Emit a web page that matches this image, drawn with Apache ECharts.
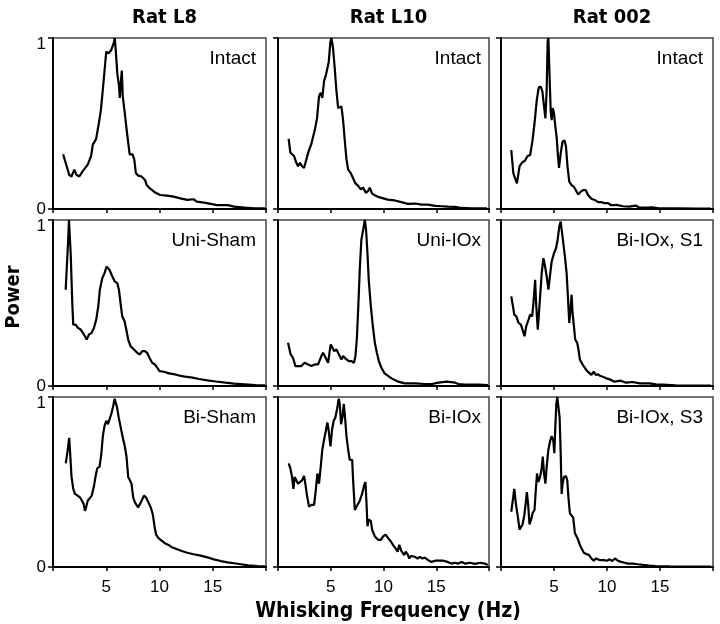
<!DOCTYPE html>
<html>
<head>
<meta charset="utf-8">
<script src="https://cdn.jsdelivr.net/npm/echarts@6/dist/echarts.min.js"></script>
<style>
html,body{margin:0;padding:0;background:#fff;}
#chart{width:720px;height:624px;}
</style>
</head>
<body>
<div id="chart"></div>
<script>
// ---- Data: [frequency (Hz), normalised power] ----
const colTitles = ['Rat L8', 'Rat L10', 'Rat 002'];
const panelLabels = [
  ['Intact', 'Intact', 'Intact'],
  ['Uni-Sham', 'Uni-IOx', 'Bi-IOx, S1'],
  ['Bi-Sham', 'Bi-IOx', 'Bi-IOx, S3']
];
const xTicks = [5, 10, 15];

const l8Intact = [[0.95,0.32],[1.52,0.2],[1.74,0.19],[2.0,0.23],[2.2,0.2],[2.47,0.19],[2.78,0.22],[3.26,0.26],[3.58,0.31],[3.73,0.375],[4.05,0.41],[4.3,0.5],[4.5,0.58],[4.68,0.7],[4.84,0.81],[5.0,0.92],[5.22,0.91],[5.47,0.93],[5.7,0.97],[5.8,1.0],[5.89,0.93],[6.04,0.79],[6.2,0.72],[6.27,0.65],[6.36,0.73],[6.46,0.81],[6.55,0.66],[6.74,0.56],[6.96,0.44],[7.2,0.32],[7.47,0.32],[7.63,0.29],[7.78,0.21],[8.0,0.195],[8.32,0.19],[8.64,0.17],[8.8,0.14],[9.1,0.12],[9.6,0.096],[10.06,0.082],[10.7,0.078],[11.33,0.072],[11.96,0.062],[12.6,0.053],[13.2,0.057],[13.5,0.043],[14.2,0.037],[14.8,0.03],[15.4,0.023],[16.4,0.023],[17.0,0.014],[18.0,0.008],[18.9,0.004],[19.9,0.004]];

const l10Intact = [[1.01,0.41],[1.17,0.33],[1.33,0.34],[1.52,0.31],[1.74,0.27],[1.9,0.25],[2.09,0.27],[2.28,0.25],[2.47,0.24],[2.69,0.29],[2.91,0.34],[3.16,0.38],[3.48,0.46],[3.7,0.53],[3.89,0.66],[4.05,0.68],[4.2,0.65],[4.37,0.75],[4.53,0.78],[4.68,0.79],[4.81,0.86],[4.97,0.98],[5.06,1.0],[5.22,0.94],[5.38,0.82],[5.54,0.69],[5.7,0.59],[5.85,0.58],[6.01,0.6],[6.17,0.52],[6.33,0.4],[6.49,0.29],[6.65,0.23],[6.9,0.21],[7.12,0.18],[7.34,0.15],[7.6,0.135],[7.85,0.115],[8.07,0.125],[8.32,0.095],[8.54,0.105],[8.7,0.125],[8.92,0.09],[9.34,0.075],[9.8,0.065],[10.4,0.055],[11.07,0.05],[11.7,0.04],[12.3,0.03],[13.0,0.032],[13.6,0.026],[14.2,0.026],[14.9,0.018],[15.5,0.016],[16.1,0.014],[16.8,0.012],[17.4,0.006],[18.35,0.004],[19.8,0.004]];

const r002Intact = [[0.97,0.345],[1.16,0.21],[1.5,0.15],[1.75,0.25],[1.97,0.27],[2.28,0.285],[2.5,0.31],[2.75,0.315],[2.97,0.4],[3.16,0.5],[3.38,0.64],[3.56,0.71],[3.75,0.716],[3.9,0.69],[4.06,0.6],[4.19,0.53],[4.31,0.7],[4.4,0.98],[4.47,1.0],[4.56,0.82],[4.69,0.57],[4.78,0.52],[4.88,0.59],[5.0,0.56],[5.13,0.48],[5.25,0.42],[5.38,0.305],[5.47,0.24],[5.63,0.325],[5.81,0.395],[6.0,0.4],[6.13,0.365],[6.28,0.245],[6.44,0.16],[6.66,0.14],[6.88,0.13],[7.06,0.11],[7.28,0.085],[7.5,0.1],[7.75,0.11],[8.0,0.11],[8.22,0.08],[8.53,0.06],[8.84,0.053],[9.16,0.04],[9.47,0.04],[9.78,0.034],[10.1,0.034],[10.4,0.022],[10.9,0.024],[11.5,0.016],[12.1,0.014],[12.7,0.02],[13.0,0.01],[13.7,0.008],[14.3,0.01],[14.9,0.004],[16.5,0.004],[18.4,0.002],[19.8,0.002]];

const l8UniSham = [[1.19,0.58],[1.41,0.86],[1.5,1.0],[1.66,0.8],[1.81,0.5],[1.9,0.37],[2.13,0.37],[2.34,0.35],[2.6,0.34],[2.81,0.32],[3.0,0.3],[3.16,0.28],[3.38,0.31],[3.63,0.32],[3.84,0.35],[4.06,0.4],[4.25,0.48],[4.4,0.58],[4.63,0.65],[4.84,0.68],[5.03,0.72],[5.16,0.72],[5.3,0.7],[5.5,0.67],[5.66,0.67],[5.8,0.63],[6.03,0.62],[6.19,0.58],[6.34,0.5],[6.5,0.42],[6.72,0.39],[6.88,0.34],[7.06,0.28],[7.28,0.24],[7.6,0.22],[7.9,0.2],[8.16,0.19],[8.38,0.21],[8.63,0.21],[8.84,0.2],[9.06,0.17],[9.31,0.14],[9.56,0.13],[9.78,0.11],[10.0,0.09],[10.4,0.086],[10.9,0.076],[11.3,0.072],[11.8,0.064],[12.4,0.056],[13.1,0.05],[13.7,0.042],[14.5,0.034],[15.3,0.027],[16.2,0.02],[17.0,0.014],[18.0,0.01],[19.0,0.006],[19.9,0.004]];

const l10UniIOx = [[0.95,0.26],[1.2,0.19],[1.42,0.17],[1.65,0.12],[1.9,0.12],[2.2,0.12],[2.53,0.14],[2.85,0.13],[3.16,0.12],[3.48,0.13],[3.8,0.13],[3.96,0.12],[4.11,0.18],[4.27,0.2],[4.43,0.18],[4.59,0.19],[4.75,0.14],[4.9,0.21],[5.0,0.25],[5.16,0.23],[5.32,0.21],[5.54,0.22],[5.7,0.21],[5.85,0.18],[6.01,0.16],[6.17,0.18],[6.33,0.18],[6.49,0.16],[6.71,0.15],[6.96,0.15],[7.2,0.14],[7.34,0.18],[7.47,0.28],[7.6,0.46],[7.75,0.7],[7.9,0.88],[8.07,0.94],[8.23,1.0],[8.35,0.94],[8.48,0.8],[8.6,0.64],[8.8,0.48],[8.99,0.36],[9.18,0.26],[9.37,0.2],[9.56,0.15],[9.8,0.11],[10.1,0.076],[10.4,0.062],[10.76,0.046],[11.4,0.026],[12.0,0.016],[13.0,0.016],[13.9,0.012],[14.6,0.012],[15.2,0.02],[16.0,0.026],[16.8,0.02],[17.1,0.012],[17.7,0.008],[19.0,0.008],[19.9,0.006]];

const r002BiS1 = [[0.97,0.54],[1.13,0.48],[1.25,0.43],[1.44,0.42],[1.66,0.38],[1.88,0.37],[2.06,0.36],[2.22,0.3],[2.38,0.36],[2.6,0.4],[2.75,0.43],[2.94,0.42],[3.06,0.5],[3.22,0.64],[3.31,0.5],[3.47,0.34],[3.56,0.42],[3.69,0.54],[3.84,0.68],[4.0,0.77],[4.16,0.72],[4.31,0.66],[4.47,0.58],[4.63,0.67],[4.78,0.75],[5.0,0.8],[5.19,0.83],[5.34,0.88],[5.5,0.96],[5.63,0.99],[5.72,0.98],[5.88,0.86],[6.03,0.78],[6.19,0.68],[6.31,0.54],[6.44,0.38],[6.56,0.46],[6.66,0.55],[6.75,0.44],[6.88,0.36],[7.0,0.28],[7.19,0.26],[7.31,0.22],[7.44,0.16],[7.69,0.13],[7.9,0.11],[8.13,0.09],[8.31,0.08],[8.53,0.067],[8.75,0.087],[8.94,0.067],[9.16,0.07],[9.38,0.06],[9.63,0.056],[9.94,0.046],[10.25,0.04],[10.7,0.026],[11.3,0.032],[11.8,0.02],[12.4,0.024],[13.1,0.016],[14.0,0.016],[14.6,0.01],[15.25,0.008],[16.5,0.004],[19.8,0.002]];

const l8BiSham = [[1.2,0.61],[1.36,0.68],[1.52,0.76],[1.61,0.67],[1.74,0.53],[1.9,0.46],[2.06,0.43],[2.31,0.42],[2.53,0.41],[2.72,0.39],[2.88,0.37],[3.0,0.33],[3.1,0.35],[3.26,0.39],[3.42,0.4],[3.64,0.42],[3.83,0.47],[3.99,0.53],[4.15,0.58],[4.37,0.59],[4.53,0.66],[4.68,0.77],[4.84,0.83],[5.0,0.86],[5.16,0.84],[5.32,0.85],[5.47,0.9],[5.63,0.94],[5.79,0.99],[5.89,1.0],[6.01,0.94],[6.17,0.88],[6.33,0.83],[6.52,0.77],[6.74,0.71],[6.9,0.65],[7.06,0.53],[7.22,0.51],[7.37,0.49],[7.53,0.41],[7.69,0.38],[7.85,0.37],[8.0,0.35],[8.16,0.36],[8.32,0.39],[8.54,0.42],[8.73,0.41],[8.96,0.38],[9.18,0.35],[9.37,0.31],[9.53,0.24],[9.68,0.19],[9.9,0.17],[10.2,0.155],[10.5,0.14],[10.85,0.13],[11.17,0.116],[11.65,0.104],[12.1,0.094],[12.6,0.084],[13.2,0.075],[13.86,0.067],[14.5,0.057],[15.1,0.045],[15.76,0.035],[16.4,0.027],[17.0,0.022],[17.66,0.016],[18.3,0.01],[19.2,0.006],[19.9,0.004]];

const l10BiIOx = [[1.01,0.61],[1.17,0.58],[1.33,0.53],[1.46,0.46],[1.58,0.53],[1.74,0.54],[1.9,0.49],[2.06,0.49],[2.28,0.51],[2.47,0.535],[2.59,0.49],[2.75,0.42],[2.94,0.355],[3.16,0.365],[3.42,0.365],[3.58,0.45],[3.73,0.55],[3.89,0.49],[4.05,0.59],[4.2,0.69],[4.37,0.75],[4.53,0.8],[4.68,0.85],[4.81,0.8],[4.97,0.71],[5.13,0.81],[5.28,0.86],[5.44,0.88],[5.6,0.93],[5.76,0.99],[5.85,0.96],[5.98,0.84],[6.11,0.88],[6.23,0.96],[6.33,0.9],[6.49,0.77],[6.65,0.69],[6.8,0.63],[7.03,0.63],[7.12,0.51],[7.28,0.335],[7.53,0.365],[7.75,0.39],[7.97,0.43],[8.16,0.48],[8.29,0.5],[8.39,0.375],[8.48,0.24],[8.6,0.28],[8.8,0.27],[8.92,0.22],[9.18,0.18],[9.49,0.16],[9.75,0.16],[9.97,0.18],[10.2,0.19],[10.44,0.17],[10.7,0.15],[10.9,0.13],[11.14,0.11],[11.33,0.09],[11.5,0.13],[11.65,0.1],[11.8,0.084],[11.96,0.07],[12.1,0.09],[12.28,0.076],[12.44,0.05],[12.6,0.065],[12.75,0.076],[12.97,0.06],[13.23,0.05],[13.45,0.06],[13.67,0.05],[13.9,0.055],[14.24,0.04],[14.56,0.03],[14.87,0.037],[15.19,0.037],[15.66,0.037],[16.08,0.03],[16.46,0.02],[16.77,0.025],[17.09,0.02],[17.4,0.03],[17.72,0.02],[18.2,0.025],[18.67,0.018],[19.15,0.025],[19.6,0.02],[19.9,0.012]];

const r002BiS3 = [[0.97,0.325],[1.13,0.4],[1.25,0.46],[1.41,0.37],[1.6,0.29],[1.75,0.22],[1.9,0.22],[2.03,0.25],[2.19,0.3],[2.34,0.38],[2.44,0.44],[2.56,0.37],[2.69,0.25],[2.84,0.28],[3.0,0.32],[3.16,0.335],[3.28,0.45],[3.4,0.55],[3.53,0.5],[3.69,0.53],[3.84,0.58],[3.94,0.65],[4.06,0.55],[4.19,0.49],[4.31,0.59],[4.47,0.69],[4.63,0.74],[4.78,0.77],[4.94,0.74],[5.03,0.67],[5.13,0.83],[5.22,0.96],[5.31,1.0],[5.44,0.99],[5.53,0.88],[5.63,0.67],[5.72,0.43],[5.81,0.49],[5.94,0.53],[6.13,0.535],[6.25,0.51],[6.38,0.395],[6.5,0.315],[6.66,0.325],[6.81,0.29],[6.97,0.2],[7.13,0.18],[7.28,0.16],[7.44,0.13],[7.59,0.11],[7.81,0.084],[8.06,0.076],[8.31,0.07],[8.53,0.05],[8.75,0.037],[8.94,0.05],[9.16,0.045],[9.38,0.04],[9.56,0.05],[9.78,0.04],[10.0,0.037],[10.25,0.045],[10.5,0.035],[10.75,0.05],[11.03,0.037],[11.34,0.03],[11.66,0.025],[11.97,0.02],[12.44,0.02],[12.9,0.016],[13.4,0.012],[14.0,0.008],[14.6,0.006],[15.9,0.004],[17.75,0.002],[19.8,0.002]];

const panelData = [
  [l8Intact, l10Intact, r002Intact],
  [l8UniSham, l10UniIOx, r002BiS1],
  [l8BiSham, l10BiIOx, r002BiS3]
];

// ---- Layout ----
const colLeft = [53, 278, 501];
const colW = [213, 211, 212];
const rowTop = [38, 220, 397];
const rowH = [171, 166, 170];
const labelRight = [459, 234, 12];
const NARROW = "'Liberation Sans Narrow','Arial Narrow','DejaVu Sans Condensed','Liberation Sans',sans-serif";
const SANS = "'Liberation Sans',Arial,sans-serif";

const grid = [], xAxis = [], yAxis = [], series = [], title = [];
for (let r = 0; r < 3; r++) {
  for (let c = 0; c < 3; c++) {
    const i = r * 3 + c;
    grid.push({left: colLeft[c], top: rowTop[r], width: colW[c], height: rowH[r],
      show: true, borderColor: '#444', borderWidth: 1.5, backgroundColor: 'transparent'});
    xAxis.push({gridIndex: i, type: 'value', min: 0, max: 20, interval: 5,
      axisLine: {show: true, onZero: false, lineStyle: {color: '#000', width: 2}},
      axisTick: {show: true, length: 4, lineStyle: {color: '#000', width: 1.5}},
      axisLabel: {show: r === 2, margin: 12, color: '#000', fontSize: 17, fontFamily: SANS,
        formatter: v => xTicks.indexOf(v) >= 0 ? String(v) : ''},
      splitLine: {show: false}});
    yAxis.push({gridIndex: i, type: 'value', min: 0, max: 1, interval: 1,
      axisLine: {show: true, onZero: false, lineStyle: {color: '#000', width: 2}},
      axisTick: {show: true, length: 5, lineStyle: {color: '#000', width: 1.5}},
      axisLabel: {show: c === 0, margin: 7, color: '#000', fontSize: 17, fontFamily: SANS,
        formatter: v => v === 1 ? '{one|1}' : String(v),
        rich: {one: {fontSize: 17, fontFamily: SANS, color: '#000', padding: [12, 0, 0, 0]}}},
      splitLine: {show: false}});
    series.push({type: 'line', xAxisIndex: i, yAxisIndex: i, data: panelData[r][c],
      showSymbol: false, symbol: 'none', animation: false,
      lineStyle: {color: '#000', width: 2.2}});
    title.push({text: panelLabels[r][c], right: labelRight[c], top: rowTop[r] + 6,
      textStyle: {fontSize: 19, fontWeight: 'normal', color: '#000', fontFamily: SANS}});
  }
}
colTitles.forEach((t, c) => {
  title.push({text: t, left: colLeft[c] + colW[c] / 2, top: 3, textAlign: 'center',
    textStyle: {fontSize: 20, fontWeight: 'bold', color: '#000', fontFamily: NARROW}});
});
title.push({text: 'Whisking Frequency (Hz)', left: 383, top: 596, textAlign: 'center',
  textStyle: {fontSize: 21, fontWeight: 'bold', color: '#000', fontFamily: NARROW}});

const chart = echarts.init(document.getElementById('chart'), null, {renderer: 'canvas'});
chart.setOption({
  animation: false,
  backgroundColor: '#fff',
  grid, xAxis, yAxis, series, title,
  graphic: [{type: 'text', x: 14, y: 297, rotation: Math.PI / 2,
    style: {text: 'Power', fill: '#000', font: "bold 20px " + NARROW, align: 'center', verticalAlign: 'middle'}}]
});
</script>
</body>
</html>
